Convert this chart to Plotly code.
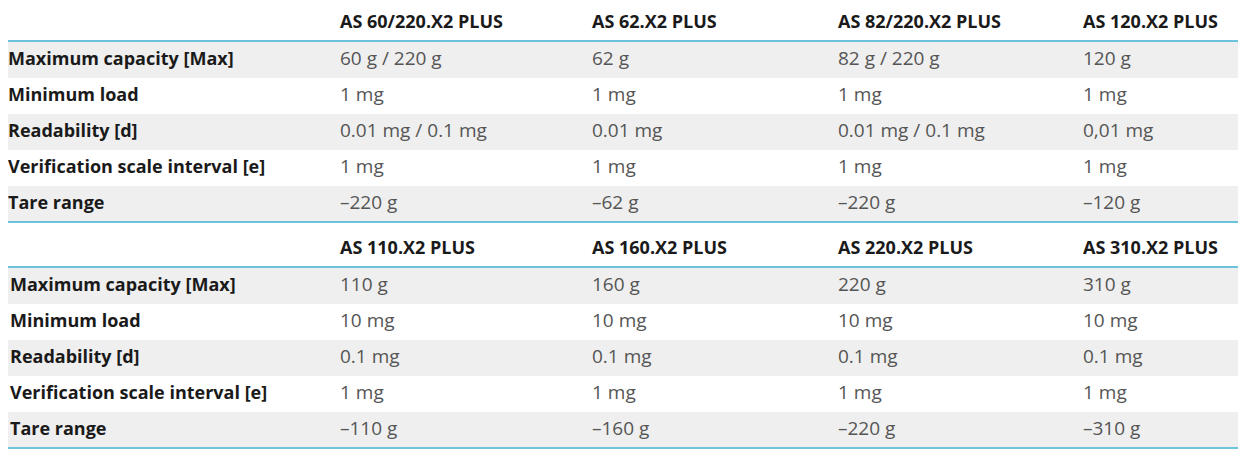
import plotly.graph_objects as go

row_labels = ["Maximum capacity [Max]", "Minimum load", "Readability [d]",
              "Verification scale interval [e]", "Tare range"]
models_1 = ["AS 60/220.X2 PLUS", "AS 62.X2 PLUS", "AS 82/220.X2 PLUS", "AS 120.X2 PLUS"]
values_1 = [
    ["60 g / 220 g", "62 g", "82 g / 220 g", "120 g"],
    ["1 mg", "1 mg", "1 mg", "1 mg"],
    ["0.01 mg / 0.1 mg", "0.01 mg", "0.01 mg / 0.1 mg", "0,01 mg"],
    ["1 mg", "1 mg", "1 mg", "1 mg"],
    ["\u2013220 g", "\u201362 g", "\u2013220 g", "\u2013120 g"],
]
models_2 = ["AS 110.X2 PLUS", "AS 160.X2 PLUS", "AS 220.X2 PLUS", "AS 310.X2 PLUS"]
values_2 = [
    ["110 g", "160 g", "220 g", "310 g"],
    ["10 mg", "10 mg", "10 mg", "10 mg"],
    ["0.1 mg", "0.1 mg", "0.1 mg", "0.1 mg"],
    ["1 mg", "1 mg", "1 mg", "1 mg"],
    ["\u2013110 g", "\u2013160 g", "\u2013220 g", "\u2013310 g"],
]

col_x = [332, 584, 830, 1075]
ROW_H = 36
tables = [(models_1, values_1, 21, 0), (models_2, values_2, 247, 2)]
GRAY = "#efefef"
CYAN = "#6cc4dc"
FONT = "Open Sans"

fig = go.Figure()
shapes = []
for models, values, hy, lx in tables:
    line_y = hy + 18
    shapes.append(dict(type="line", x0=0, x1=1246, y0=line_y, y1=line_y,
                       line=dict(color=CYAN, width=2), xref="x", yref="y"))
    for i in range(len(row_labels)):
        cy = hy + 37 + i * ROW_H
        if i % 2 == 0:
            shapes.append(dict(type="rect", x0=0, x1=1246, y0=cy - 18, y1=cy + 18,
                               fillcolor=GRAY, line_width=0, layer="below",
                               xref="x", yref="y"))
    bottom = hy + 37 + 4 * ROW_H + 18
    shapes.append(dict(type="line", x0=0, x1=1246, y0=bottom, y1=bottom,
                       line=dict(color=CYAN, width=2), xref="x", yref="y"))
    fig.add_trace(go.Scatter(x=col_x, y=[hy] * 4, text=models, mode="text",
                             textposition="middle right",
                             textfont=dict(family=FONT, size=18, color="#1a1a1a", weight="bold"),
                             hoverinfo="skip"))
    ys = [hy + 37 + i * ROW_H for i in range(len(row_labels))]
    fig.add_trace(go.Scatter(x=[lx] * len(row_labels), y=ys, text=row_labels, mode="text",
                             textposition="middle right",
                             textfont=dict(family=FONT, size=18, color="#1a1a1a", weight="bold"),
                             hoverinfo="skip"))
    xs, yv, tv = [], [], []
    for i, row in enumerate(values):
        for j, v in enumerate(row):
            xs.append(col_x[j]); yv.append(ys[i]); tv.append(v)
    fig.add_trace(go.Scatter(x=xs, y=yv, text=tv, mode="text",
                             textposition="middle right",
                             textfont=dict(family=FONT, size=19, color="#555555"),
                             hoverinfo="skip"))

fig.update_layout(
    width=1246, height=450, margin=dict(l=0, r=0, t=0, b=0),
    paper_bgcolor="white", plot_bgcolor="white", showlegend=False,
    shapes=shapes,
    xaxis=dict(range=[0, 1246], visible=False, fixedrange=True),
    yaxis=dict(range=[456, 6], visible=False, fixedrange=True),
)
fig.write_html("out.html", config={"displayModeBar": False})
